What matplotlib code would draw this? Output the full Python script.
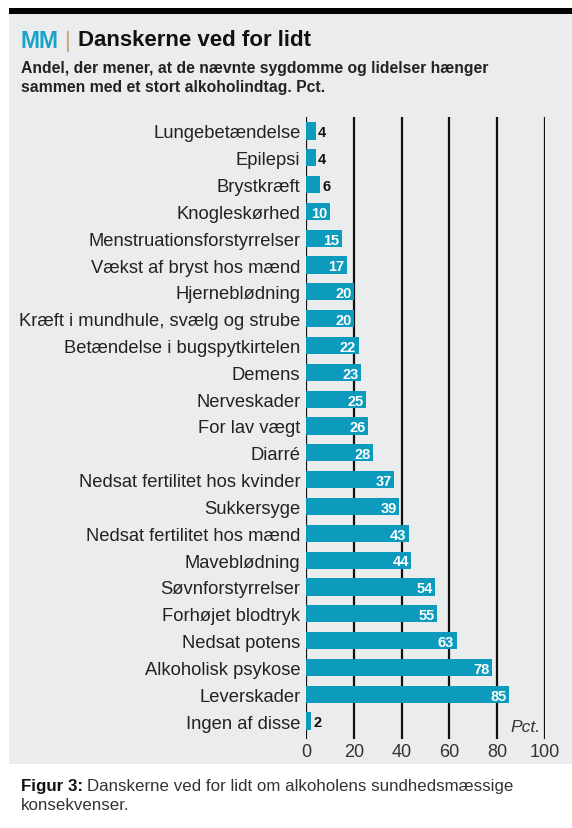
import matplotlib.pyplot as plt
from matplotlib.patches import Rectangle

# Data
labels = ['Lungebetændelse', 'Epilepsi', 'Brystkræft', 'Knogleskørhed',
          'Menstruationsforstyrrelser', 'Vækst af bryst hos mænd', 'Hjerneblødning',
          'Kræft i mundhule, svælg og strube', 'Betændelse i bugspytkirtelen', 'Demens',
          'Nerveskader', 'For lav vægt', 'Diarré', 'Nedsat fertilitet hos kvinder',
          'Sukkersyge', 'Nedsat fertilitet hos mænd', 'Maveblødning', 'Søvnforstyrrelser',
          'Forhøjet blodtryk', 'Nedsat potens', 'Alkoholisk psykose', 'Leverskader',
          'Ingen af disse']
values = [4, 4, 6, 10, 15, 17, 20, 20, 22, 23, 25, 26, 28, 37, 39, 43, 44, 54, 55,
          63, 78, 85, 2]
xticks = [0, 20, 40, 60, 80, 100]

plt.rcParams['font.family'] = ['Liberation Sans', 'DejaVu Sans']

W, H = 572, 829
fig = plt.figure(figsize=(W / 100, H / 100), dpi=100)
fig.patch.set_facecolor('white')
r = fig.canvas.get_renderer()

# grey panel and black top rule
fig.add_artist(Rectangle((9 / W, 1 - 765 / H), 1 - 9 / W, (765 - 14) / H,
                         transform=fig.transFigure, facecolor='#ebecee', edgecolor='none', zorder=0))
fig.add_artist(Rectangle((9 / W, 1 - 15 / H), 1 - 9 / W, 6 / H,
                         transform=fig.transFigure, facecolor='black', edgecolor='none', zorder=1))

# title
fig.text(21 / W, 1 - 41 / H, 'MM', color='#1aa3c8', fontsize=16.5, fontweight='bold', va='center')
fig.text(65 / W, 1 - 41 / H, '|', color='#c9a070', fontsize=16, va='center')
fig.text(78 / W, 1 - 41 / H, 'Danskerne ved for lidt', color='#111111', fontsize=16,
         fontweight='bold', va='center')
fig.text(21 / W, 1 - 78 / H,
         'Andel, der mener, at de nævnte sygdomme og lidelser hænger\nsammen med et stort alkoholindtag. Pct.',
         color='#222222', fontsize=11.3, fontweight='bold', va='center', linespacing=1.35)

ax = fig.add_axes([306 / W, 1 - 740 / H, (545 - 306) / W, (740 - 118) / H])
ax.set_facecolor('none')
y = list(range(len(labels)))
ax.barh(y, values, height=0.64, color='#0c9bbd', zorder=2)
for yi, v in zip(y, values):
    if v >= 10:
        ax.text(v - 1, yi + 0.05, str(v), color='white', fontsize=10.5, fontweight='bold',
                ha='right', va='center', zorder=3)
    else:
        ax.text(v + 1, yi + 0.05, str(v), color='#111111', fontsize=10.5, fontweight='bold',
                ha='left', va='center', zorder=3)

for t in xticks:
    ax.axvline(t, color='#111111', lw=1.6, zorder=1)

ax.set_xlim(0, 100)
ax.set_ylim(len(labels) - 0.33, -0.52)
ax.set_yticks(y)
ax.set_yticklabels(labels, fontsize=13.2, color='#222222')
ax.set_xticks(xticks)
ax.set_xticklabels([str(t) for t in xticks], fontsize=13, color='#333333')
ax.tick_params(length=0, pad=4)
ax.tick_params(axis='x', pad=3)
for s in ax.spines.values():
    s.set_visible(False)
ax.text(98, len(labels) - 0.8, 'Pct.', fontsize=12.5, style='italic', color='#333333',
        ha='right', va='center')

# caption: bold lead-in followed by regular text
cap = fig.text(21 / W, 1 - 787 / H, 'Figur 3:', fontsize=12.2, fontweight='bold',
               color='#111111', va='center')
bb = cap.get_window_extent(renderer=r)
fig.text(bb.x1 / W + 4 / W, 1 - 787 / H, 'Danskerne ved for lidt om alkoholens sundhedsmæssige',
         fontsize=12.2, color='#333333', va='center')
fig.text(21 / W, 1 - 806 / H, 'konsekvenser.', fontsize=12.2, color='#333333', va='center')

fig.savefig('out.png', dpi=100)
